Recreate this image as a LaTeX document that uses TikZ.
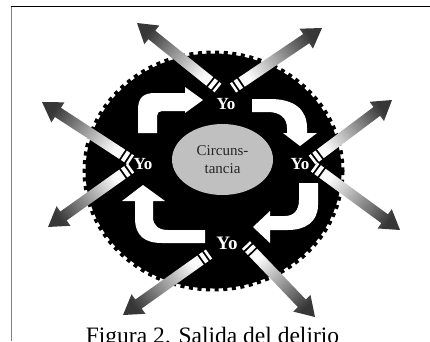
\documentclass[tikz,border=0pt]{standalone}
\usepackage{fontspec}
\setmainfont{Liberation Serif}
\usetikzlibrary{shapes.geometric}
\definecolor{raylight}{RGB}{250,250,250}
\definecolor{raydark}{RGB}{55,55,55}
\definecolor{circgray}{RGB}{192,192,192}
\tikzset{
  yo/.style={text=white, font=\bfseries\fontsize{17}{17}\selectfont, inner sep=0pt},
  bent/.style={fill=white},
}

\begin{document}
\begin{tikzpicture}[x=1pt,y=-1pt]
	\useasboundingbox (0,0) rectangle (430,341);
	% frame
	\draw[gray, line width=1.5] (11.5,6) -- (11.5,341);
	\draw[line width=1] (11,6) -- (430,6);
	% gear
	\fill (213.5,171) ellipse [x radius=128, y radius=117.5];
	\draw[line width=7, dash pattern=on 4pt off 4.5pt] (213.5,171) ellipse [x radius=127.5, y radius=117];
	% rays
	\foreach \bx/\by/\tx/\ty in {218/88/137/23, 233/88/322/28, 131/160/42/102, 131/168/48/227, 312/160/392/100, 314/167/400/230, 209/254/123/315, 246/245/315/317}{
		\pgfmathsetmacro\ang{atan2(\by-\ty,\tx-\bx)}
		\pgfmathsetmacro\len{veclen(\tx-\bx,\ty-\by)}
		\begin{scope}[shift={(\bx,\by)}, rotate=\ang]
			\fill[white] (0,-5.5) rectangle (2.5,5.5);
			\fill[white] (4.5,-5.5) rectangle (8.5,5.5);
			\shade[top color=raydark, bottom color=raylight, shading angle=\ang-90] (10.5,-5.5) -- (\len-19,-5.5) -- (\len-19,-12) -- (\len,0) -- (\len-19,12) -- (\len-19,5.5) -- (10.5,5.5) -- cycle;
		\end{scope}
	}
	% bent arrows
	\fill[bent] (138,133) -- (138,110) .. controls (138,98) and (143,93) .. (155,93) -- (185,93) -- (185,87) -- (203,100) -- (185,113) -- (185,111) -- (162,111) .. controls (159,111) and (157,113) .. (157,116) -- (157,133) -- cycle;
	\fill[bent] (252,99) -- (270,99) .. controls (295,99) and (307,110) .. (307,128) -- (307,133) -- (317,133) -- (300,146) -- (283,133) -- (287,133) -- (287,128) .. controls (287,118) and (280,112) .. (268,112) -- (252,112) -- cycle;
	\fill[bent] (299,183) -- (318,183) -- (318,205) .. controls (318,222) and (305,230) .. (288,230) -- (270,230) -- (270,243) -- (253,227) -- (270,211) -- (270,216) -- (285,216) .. controls (294,216) and (299,210) .. (299,200) -- cycle;
	\fill[bent] (205,230) -- (168,230) .. controls (159,230) and (153,226) .. (153,217) -- (153,201) -- (165,201) -- (143,185) -- (122,201) -- (135,201) -- (135,218) .. controls (135,236) and (145,243) .. (162,243) -- (205,243) -- cycle;
	% centre
	\node[ellipse, fill=circgray, minimum width=101, minimum height=71, inner sep=0pt, align=center, text=black!85, font=\fontsize{15}{18}\selectfont] (circ) at (222.5,159.5) {Circuns-\\tancia};
	\node[yo] (yoTop) at (226,104) {Yo};
	\node[yo] (yoLeft) at (143,164) {Yo};
	\node[yo] (yoRight) at (300,164) {Yo};
	\node[yo, font=\bfseries\fontsize{19}{19}\selectfont] (yoBottom) at (227,243) {Yo};
	% caption
	\node[anchor=base, inner sep=0pt, font=\fontsize{23.5}{28}\selectfont] (caption) at (212.5,343.5) {Figura 2. Salida del delirio};
\end{tikzpicture}
\end{document}
